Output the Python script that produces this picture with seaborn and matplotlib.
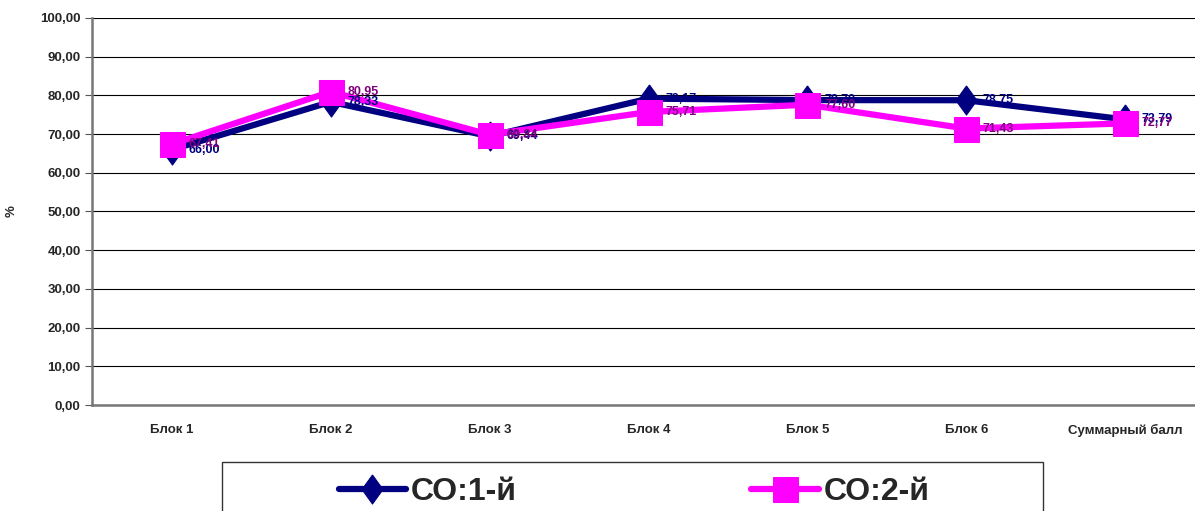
import matplotlib
matplotlib.use('Agg')
import matplotlib.pyplot as plt
import seaborn as sns
import pandas as pd
from matplotlib.patches import Rectangle
from matplotlib.ticker import MultipleLocator, FixedLocator

categories = ['Блок 1', 'Блок 2', 'Блок 3', 'Блок 4', 'Блок 5', 'Блок 6', 'Суммарный балл']
so1 = [66.00, 78.33, 69.44, 79.17, 78.79, 78.75, 73.79]
so2 = [67.41, 80.95, 69.84, 75.71, 77.60, 71.43, 72.77]
series_names = ['СО:1-й', 'СО:2-й']

sns.set_style('white')
plt.rcParams['font.family'] = ['Liberation Sans', 'DejaVu Sans']

fig = plt.figure(figsize=(11.95, 5.11), dpi=100)
W, H = 1195, 511
ax = fig.add_axes([92.5 / W, 1 - 405 / H, (1204.5 - 92.5) / W, (405 - 18) / H])

df = pd.DataFrame({'pos': list(range(len(categories))) * 2,
                   'val': so1 + so2,
                   'series': [series_names[0]] * len(so1) + [series_names[1]] * len(so2)})

# tall diamond like the Excel marker
diamond = [(0, 1), (0.72, 0), (0, -1), (-0.72, 0), (0, 1)]
styles = {series_names[0]: ('#000080', diamond, 21, '#000080'),
          series_names[1]: ('#FF00FF', 's', 18, '#800080')}
for name in series_names:
    color, marker, ms, lab_color = styles[name]
    sub = df[df['series'] == name]
    sns.lineplot(data=sub, x='pos', y='val', ax=ax, color=color, lw=4.5,
                 marker=marker, markersize=ms, markeredgecolor=color, sort=False,
                 label=name, legend=False)
    for x, y in zip(sub['pos'], sub['val']):
        ax.text(x + 0.105, y, f'{y:.2f}'.replace('.', ','), color=lab_color,
                fontsize=9, fontweight='bold', va='center', ha='left')

ax.set_xlim(-0.5, len(categories) - 0.5)
ax.set_ylim(0, 100)
ax.yaxis.set_major_locator(MultipleLocator(10))
ax.set_yticklabels([f'{v:.2f}'.replace('.', ',') for v in ax.get_yticks()])
ax.set_xticks(range(len(categories)))
ax.set_xticklabels(categories)
ax.xaxis.set_minor_locator(FixedLocator([i + 0.5 for i in range(-1, len(categories))]))
ax.tick_params(axis='x', which='major', length=0, pad=14)
ax.tick_params(axis='x', which='minor', length=4, color='#555555')
ax.tick_params(axis='y', length=5, direction='out', left=True, color='#555555')
for lab in ax.get_xticklabels() + ax.get_yticklabels():
    lab.set_fontweight('bold')
    lab.set_fontsize(9.5)
ax.grid(axis='y', color='black', lw=0.8)
ax.set_axisbelow(True)
for s in ['top', 'right']:
    ax.spines[s].set_visible(False)
for s in ['left', 'bottom']:
    ax.spines[s].set_color('#777777')
    ax.spines[s].set_linewidth(1.8)
ax.set_xlabel('')
ax.set_ylabel('%', fontsize=9.5, fontweight='bold')
ax.yaxis.set_label_coords((18 - 92.5) / (1204.5 - 92.5), 0.5)

fig.add_artist(Rectangle((222 / W, -0.05), (1043 - 222) / W, (511 - 462) / H + 0.05,
                         transform=fig.transFigure, fill=False, edgecolor='#333333', lw=1))
handles, labels = ax.get_legend_handles_labels()
fig.legend(handles, labels, loc='center left', bbox_to_anchor=(310 / W, 1 - 492 / H),
           ncol=2, frameon=False, handlelength=2.1, columnspacing=7.35,
           prop={'size': 23, 'weight': 'bold'}, markerscale=1.0, handletextpad=0.15)

fig.savefig('out.png', dpi=100)
